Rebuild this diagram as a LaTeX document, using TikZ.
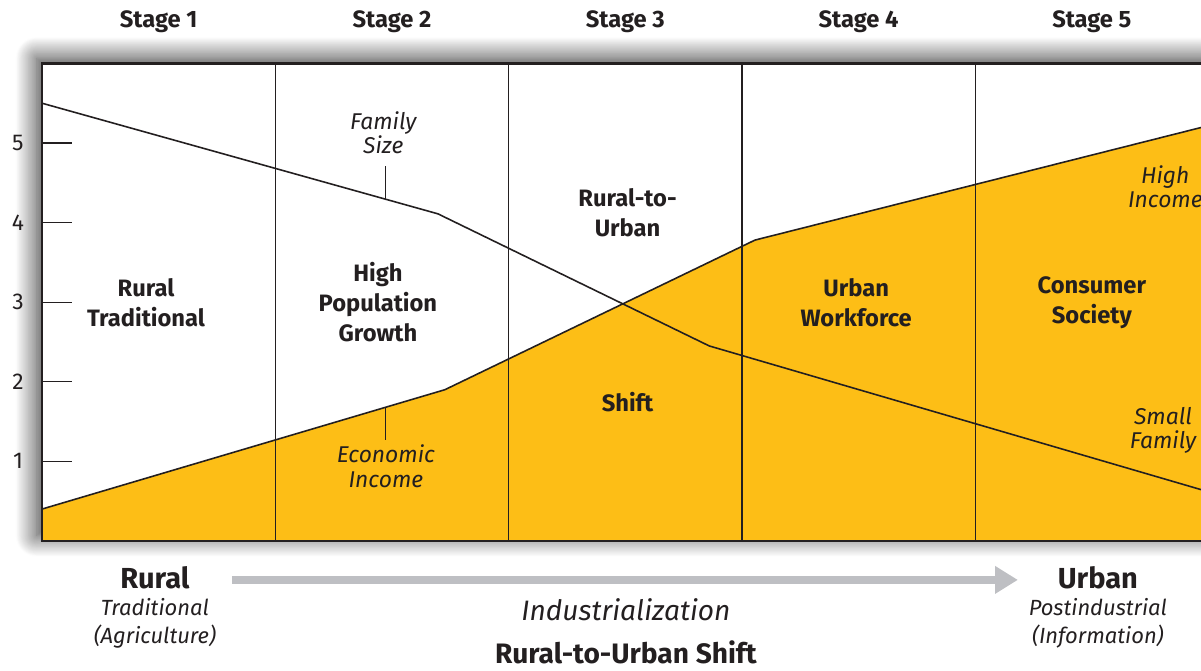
\documentclass[tikz,border=0pt]{standalone}
\usepackage{fontspec}
\setmainfont{Fira Sans}
\usepackage{tikz}
\usetikzlibrary{arrows.meta, shadows.blur}
\usepackage{xcolor}
\definecolor{inkdark}{RGB}{35,31,32}
\definecolor{incomeyellow}{RGB}{253,190,22}
\definecolor{arrowgray}{RGB}{190,191,195}

\begin{document}
\begin{tikzpicture}[x=4.667cm, y=1.592cm,
    stagelabel/.style={text=inkdark, font=\fontsize{13.5}{15}\selectfont\bfseries},
    phaselabel/.style={text=inkdark, align=center, font=\fontsize{13.5}{17}\selectfont\bfseries},
    curvelabel/.style={text=inkdark, align=center, font=\fontsize{13}{14}\selectfont\itshape},
    endlabel/.style={text=inkdark, font=\fontsize{16.5}{18}\selectfont\bfseries},
    endsub/.style={text=inkdark, align=center, font=\fontsize{12.5}{16}\selectfont\itshape},
    divider/.style={draw=inkdark, line width=0.7pt},
    datacurve/.style={draw=inkdark, line width=0.9pt, line join=round},
    tickmark/.style={draw=inkdark, line width=0.7pt}]
    % Bildausschnitt (Rand rechts abgeschnitten)
    \clip (-0.18,-1.633) rectangle (4.968,6.797);
    % Rahmen mit Schatten
    \fill[white, blur shadow={shadow xshift=-3pt, shadow yshift=3pt, shadow blur radius=12pt, shadow blur steps=24, shadow opacity=80}] (0,0) rectangle (5.3,6);
    % Einkommen (gelbe Flaeche)
    \fill[incomeyellow] (0,0) -- (0,0.40) -- (1.727,1.90) -- (3.056,3.78) -- (5.3,5.44) -- (5.3,0) -- cycle;
    % Stufen
    \foreach \k in {1,...,4}
        \draw[divider] (\k,0) -- (\k,6);
    \foreach \k in {1,...,5}
        \node[stagelabel] (stage\k) at (\k-0.5,6.52) {Stage \k};
    % Kurven
    \draw[datacurve] (0,0.40) -- (1.727,1.90) -- (3.056,3.78) -- (5.3,5.44);
    \draw[datacurve] (0,5.50) -- (1.697,4.11) -- (2.86,2.45) -- (5.3,0.36);
    % Achse
    \foreach \v in {1,...,5} {
        \draw[tickmark] (0,\v) -- (0.129,\v);
        \node[text=inkdark, font=\fontsize{13}{15}\selectfont] (ylab\v) at (-0.103,\v) {\v};
    }
    \draw[inkdark, line width=1.3pt] (5.3,0) -- (0,0) -- (0,6) -- (5.3,6);
    % Beschriftungen der Phasen
    \node[phaselabel] (rural) at (0.446,2.99) {Rural\\Traditional};
    \node[phaselabel] (popgrowth) at (1.44,3.0) {High\\Population\\Growth};
    \node[phaselabel] (ruralurban) at (2.51,4.12) {Rural-to-\\Urban};
    \node[phaselabel] (shift) at (2.51,1.75) {Shift};
    \node[phaselabel] (workforce) at (3.49,2.99) {Urban\\Workforce};
    \node[phaselabel] (consumer) at (4.5,2.99) {Consumer\\Society};
    % Kurvenbeschriftungen
    \node[curvelabel] (famsize) at (1.463,5.13) {Family\\Size};
    \node[curvelabel] (income) at (1.474,0.94) {Economic\\Income};
    \node[curvelabel] (highinc) at (4.815,4.45) {High\\Income};
    \node[curvelabel] (smallfam) at (4.805,1.39) {Small\\Family};
    \coordinate (famcall) at (1.474,4.29);
    \coordinate (inccall) at (1.474,1.68);
    \draw[tickmark] (famcall) -- ++(0,0.42);
    \draw[tickmark] (inccall) -- ++(0,-0.41);
    % Unten: Land -> Stadt
    \node[endlabel] (ruralend) at (0.484,-0.465) {Rural};
    \node[endsub] (ruralsub) at (0.484,-1.04) {Traditional\\(Agriculture)};
    \node[endlabel] (urbanend) at (4.526,-0.465) {Urban};
    \node[endsub] (urbansub) at (4.526,-1.04) {Postindustrial\\(Information)};
    \coordinate (arrowstart) at (0.814,-0.49);
    \coordinate (arrowend) at (4.183,-0.49);
    \draw[arrowgray, line width=5pt, -{Triangle[length=13pt,width=15pt]}] (arrowstart) -- (arrowend);
    \node[text=inkdark, font=\fontsize{16}{18}\selectfont\itshape] (industrial) at (2.503,-0.867) {Industrialization};
    \node[endlabel, font=\fontsize{16}{18}\selectfont\bfseries, inner sep=1pt] (shifttitle) at (2.503,-1.40) {Rural-to-Urban Shift};
\end{tikzpicture}
\end{document}
